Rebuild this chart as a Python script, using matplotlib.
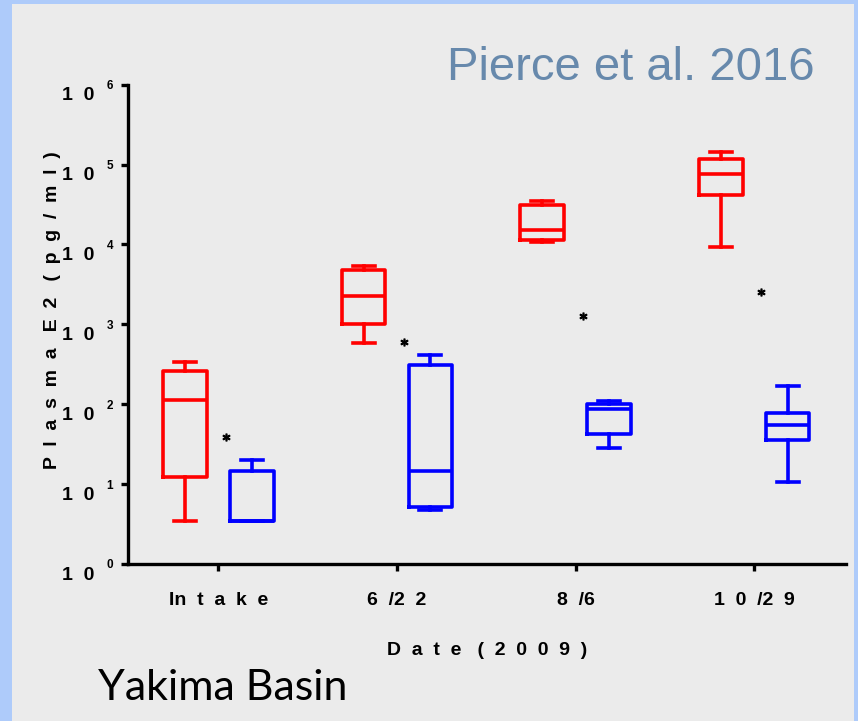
import matplotlib
matplotlib.use('Agg')
import matplotlib.pyplot as plt
from matplotlib.patches import Rectangle
import matplotlib.transforms as mtransforms

# ---------------- data ----------------
dates = ['Intake', '6/22', '8/6', '10/29']
date_labels = ['In  t  a  k  e', '6  /2  2', '8  /6', '1  0  /2  9']

# five-number summaries (pg/ml): whisker low, Q1, median, Q3, whisker high
red_low  = [3.5, 589, 10715, 9333]
red_q1   = [12.3, 1000, 11220, 41687]
red_med  = [112, 2239, 15136, 75858]
red_q3   = [263, 4786, 31623, 118850]
red_high = [339, 5370, 35481, 144544]

blue_low  = [3.5, 4.7, 28, 10.5]
blue_q1   = [3.5, 5.1, 43, 35.5]
blue_med  = [3.5, 14.8, 87, 55]
blue_q3   = [14.8, 309, 102, 78]
blue_high = [20, 417, 110, 170]

# significance asterisk heights (pg/ml)
star_y = [39, 596, 1288, 2512]

y_exponents = [0, 1, 2, 3, 4, 5, 6]
y_base_label = '1  0'

# ---------------- style ----------------
RED = '#FF0000'
BLUE = '#0000FF'
BORDER = '#AECBFA'
PANEL = '#EBEBEB'
LAB_FONT = 'Liberation Sans'

fig = plt.figure(figsize=(8.58, 7.21), dpi=100, facecolor=BORDER)
fig.patches.append(Rectangle((12 / 858, 0), (854 - 12) / 858, (721 - 4) / 721,
                             transform=fig.transFigure, facecolor=PANEL,
                             edgecolor='none', zorder=-10))

ax = fig.add_axes([127.7 / 858, 157 / 721, (846 - 127.7) / 858, (564 - 84.7) / 721])
ax.set_facecolor('none')
ax.set_zorder(5)


def make_stats(lo, q1, med, q3, hi):
    return [dict(whislo=a, q1=b, med=c, q3=d, whishi=e, fliers=[])
            for a, b, c, d, e in zip(lo, q1, med, q3, hi)]


xpos = list(range(len(dates)))
off = 0.187
w = 0.245
lw = 2.6

for stats, color, sgn in [
    (make_stats(red_low, red_q1, red_med, red_q3, red_high), RED, -1),
    (make_stats(blue_low, blue_q1, blue_med, blue_q3, blue_high), BLUE, 1),
]:
    ax.bxp(stats, positions=[x + sgn * off for x in xpos], widths=w,
           capwidths=w * 0.5, showfliers=False, manage_ticks=False,
           boxprops=dict(color=color, lw=lw),
           whiskerprops=dict(color=color, lw=lw),
           capprops=dict(color=color, lw=lw),
           medianprops=dict(color=color, lw=lw))

for x, sy in zip(xpos, star_y):
    ax.plot(x + 0.04, sy, marker=r'$*$', ms=5, color='black', ls='none')

ax.set_yscale('log')
ax.set_ylim(1, 1e6)
ax.set_xlim(-0.508, 3.514)

for s in ['top', 'right']:
    ax.spines[s].set_visible(False)
for s in ['left', 'bottom']:
    ax.spines[s].set_linewidth(2.4)
    ax.spines[s].set_color('black')

# y ticks: "1 0" base as tick label, exponent as small raised text
ax.set_yticks([10.0 ** k for k in y_exponents])
ax.set_yticklabels([y_base_label] * len(y_exponents), fontfamily=LAB_FONT,
                   fontweight='bold', fontsize=14)
ax.yaxis.set_minor_locator(matplotlib.ticker.NullLocator())
ax.tick_params(axis='y', length=5, width=2.4, pad=19)
down = mtransforms.ScaledTranslation(0, -8 / 72, fig.dpi_scale_trans)
for lab in ax.get_yticklabels():
    lab.set_verticalalignment('center')
    lab.set_transform(lab.get_transform() + down)

exp_tr = mtransforms.blended_transform_factory(ax.transAxes, ax.transData) + \
    mtransforms.ScaledTranslation(0, -1 / 72, fig.dpi_scale_trans)
for k in y_exponents:
    ax.text((110 - 127.7) / 718.3, 10.0 ** k, str(k), transform=exp_tr,
            fontfamily=LAB_FONT, fontweight='bold', fontsize=8.5,
            ha='center', va='center', clip_on=False)

ax.set_xticks(xpos)
ax.set_xticklabels(date_labels, fontfamily=LAB_FONT,
                   fontweight='bold', fontsize=14)
ax.tick_params(axis='x', length=5, width=2.4, pad=15)

ax.set_xlabel('D  a  t  e   (  2  0  0  9  )', fontfamily=LAB_FONT,
              fontweight='bold', fontsize=14, va='center')
ax.xaxis.set_label_coords(0.5, -0.181)
ax.set_ylabel('P  l  a  s  m  a   E  2   (  p  g  /  m  l  )', fontfamily=LAB_FONT,
              fontweight='bold', fontsize=14, va='center')
ax.yaxis.set_label_coords(-0.105, 0.529)

fig.text(631 / 858, (721 - 68) / 721, 'Pierce et al. 2016',
         fontfamily=LAB_FONT, fontsize=34, color='#6789AC',
         ha='center', va='center')
fig.text(98 / 858, (721 - 688) / 721, 'Yakima Basin', fontfamily='Lato',
         fontsize=31, color='black', ha='left', va='center')

fig.savefig('out.png', dpi=100, facecolor=BORDER)
